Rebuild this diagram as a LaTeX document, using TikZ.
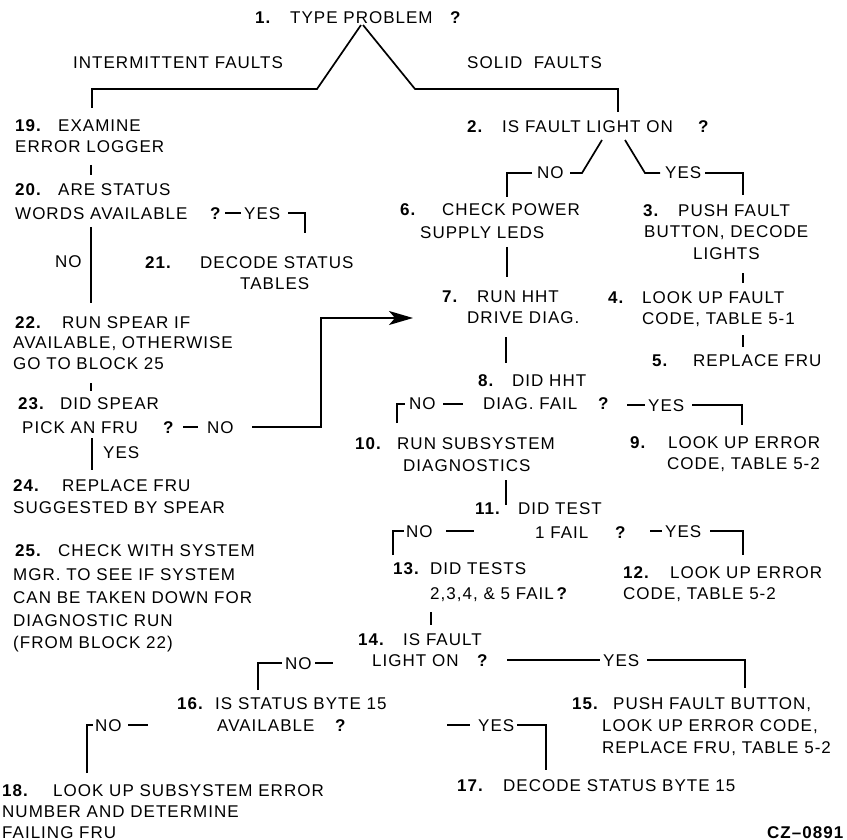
\documentclass[tikz,border=0pt]{standalone}
\usepackage{fontspec}
\setmainfont{Liberation Sans}[LetterSpace=6]
\usetikzlibrary{arrows.meta}
\begin{document}
\begin{tikzpicture}[x=1pt,y=-1pt,
  t/.style={anchor=base west,inner sep=0pt,font=\fontsize{17}{20}\selectfont},
  num/.style={anchor=base west,inner sep=0pt,font=\fontsize{17}{20}\selectfont\bfseries},
  ln/.style={line width=1.7pt},
  arr/.style={line width=1.7pt,-{Stealth[length=24pt,width=14pt,inset=6pt]}}]
\fill[white] (0,0) rectangle (847,840);
\useasboundingbox (0,0) rectangle (847,840);
% ---- title
\node[num] (n1) at (255,24) {1.};
\node[t] (t1) at (290,24) {TYPE PROBLEM};
\node[num] (q1) at (450,24) {?};
\node[t] (lint) at (73,69) {INTERMITTENT FAULTS};
\node[t] (lsol) at (467,69) {SOLID\ \ FAULTS};
% ---- 2
\node[num] (n2) at (467,133) {2.};
\node[t] (t2) at (502,133) {IS FAULT LIGHT ON};
\node[num] (q2) at (698,133) {?};
\node[t] (no2) at (537,179) {NO};
\node[t] (yes2) at (665,179) {YES};
% ---- 6
\node[num] (n6) at (400,216) {6.};
\node[t] (t6a) at (442,216) {CHECK POWER};
\node[t] (t6b) at (420,239) {SUPPLY LEDS};
% ---- 3
\node[num] (n3) at (643,217) {3.};
\node[t] (t3a) at (678,217) {PUSH FAULT};
\node[t] (t3b) at (644,238) {BUTTON, DECODE};
\node[t] (t3c) at (693,259) {LIGHTS};
% ---- 19
\node[num] (n19) at (15,132) {19.};
\node[t] (t19a) at (58,132) {EXAMINE};
\node[t] (t19b) at (15,153) {ERROR LOGGER};
% ---- 20
\node[num] (n20) at (15,196) {20.};
\node[t] (t20a) at (58,196) {ARE STATUS};
\node[t] (t20b) at (15,219) {WORDS AVAILABLE};
\node[num] (q20) at (210,219) {?};
\node[t] (yes20) at (244,219) {YES};
\node[t] (no20) at (55,268) {NO};
% ---- 21
\node[num] (n21) at (145,269) {21.};
\node[t] (t21a) at (200,269) {DECODE STATUS};
\node[t] (t21b) at (240,290) {TABLES};
% ---- 7
\node[num] (n7) at (442,302) {7.};
\node[t] (t7a) at (477,302) {RUN HHT};
\node[t] (t7b) at (467,323) {DRIVE DIAG.};
% ---- 4
\node[num] (n4) at (608,303) {4.};
\node[t] (t4a) at (642,303) {LOOK UP FAULT};
\node[t] (t4b) at (642,324) {CODE, TABLE 5-1};
% ---- 22
\node[num] (n22) at (15,328) {22.};
\node[t] (t22a) at (62,328) {RUN SPEAR IF};
\node[t] (t22b) at (13,348) {AVAILABLE, OTHERWISE};
\node[t] (t22c) at (13,369) {GO TO BLOCK 25};
% ---- 5
\node[num] (n5) at (652,366) {5.};
\node[t] (t5) at (693,366) {REPLACE FRU};
% ---- 8
\node[num] (n8) at (478,386) {8.};
\node[t] (t8a) at (512,386) {DID HHT};
\node[t] (t8b) at (483,409) {DIAG. FAIL};
\node[num] (q8) at (598,409) {?};
\node[t] (no8) at (409,409) {NO};
\node[t] (yes8) at (648,411) {YES};
% ---- 23
\node[num] (n23) at (18,409) {23.};
\node[t] (t23a) at (60,409) {DID SPEAR};
\node[t] (t23b) at (22,433) {PICK AN FRU};
\node[num] (q23) at (163,433) {?};
\node[t] (no23) at (207,433) {NO};
\node[t] (yes23) at (103,458) {YES};
% ---- 10
\node[num] (n10) at (355,449) {10.};
\node[t] (t10a) at (397,449) {RUN SUBSYSTEM};
\node[t] (t10b) at (403,471) {DIAGNOSTICS};
% ---- 9
\node[num] (n9) at (630,448) {9.};
\node[t] (t9a) at (668,448) {LOOK UP ERROR};
\node[t] (t9b) at (667,469) {CODE, TABLE 5-2};
% ---- 24
\node[num] (n24) at (13,491) {24.};
\node[t] (t24a) at (62,491) {REPLACE FRU};
\node[t] (t24b) at (13,513) {SUGGESTED BY SPEAR};
% ---- 11
\node[num] (n11) at (475,514) {11.};
\node[t] (t11a) at (518,514) {DID TEST};
\node[t] (t11b) at (535,538) {1 FAIL};
\node[num] (q11) at (615,538) {?};
\node[t] (no11) at (406,537) {NO};
\node[t] (yes11) at (665,537) {YES};
% ---- 25
\node[num] (n25) at (15,556) {25.};
\node[t] (t25a) at (58,556) {CHECK WITH SYSTEM};
\node[t] (t25b) at (13,580) {MGR. TO SEE IF SYSTEM};
\node[t] (t25c) at (13,603) {CAN BE TAKEN DOWN FOR};
\node[t] (t25d) at (13,626) {DIAGNOSTIC RUN};
\node[t] (t25e) at (13,648) {(FROM BLOCK 22)};
% ---- 12
\node[num] (n12) at (623,578) {12.};
\node[t] (t12a) at (670,578) {LOOK UP ERROR};
\node[t] (t12b) at (623,599) {CODE, TABLE 5-2};
% ---- 13
\node[num] (n13) at (393,574) {13.};
\node[t] (t13a) at (430,574) {DID TESTS};
\node[t] (t13b) at (430,599) {2,3,4, \& 5 FAIL\,\textbf{?}};
% ---- 14
\node[num] (n14) at (358,645) {14.};
\node[t] (t14a) at (403,645) {IS FAULT};
\node[t] (t14b) at (372,666) {LIGHT ON};
\node[num] (q14) at (477,666) {?};
\node[t] (no14) at (285,669) {NO};
\node[t] (yes14) at (603,666) {YES};
% ---- 16
\node[num] (n16) at (177,709) {16.};
\node[t] (t16a) at (215,709) {IS STATUS BYTE 15};
\node[t] (t16b) at (217,731) {AVAILABLE};
\node[num] (q16) at (335,731) {?};
\node[t] (no16) at (95,731) {NO};
\node[t] (yes16) at (478,731) {YES};
% ---- 15
\node[num] (n15) at (572,709) {15.};
\node[t] (t15a) at (613,709) {PUSH FAULT BUTTON,};
\node[t] (t15b) at (602,731) {LOOK UP ERROR CODE,};
\node[t] (t15c) at (602,753) {REPLACE FRU, TABLE 5-2};
% ---- 17
\node[num] (n17) at (457,791) {17.};
\node[t] (t17) at (503,791) {DECODE STATUS BYTE 15};
% ---- 18
\node[num] (n18) at (2,796) {18.};
\node[t] (t18a) at (53,796) {LOOK UP SUBSYSTEM ERROR};
\node[t] (t18b) at (2,817) {NUMBER AND DETERMINE};
\node[t] (t18c) at (2,838) {FAILING FRU};
\node[num] (cz) at (767,838) {CZ--0891};
% ================= connectors
\draw[ln] (361,25)--(317,89)--(92,89)--(92,108);
\draw[ln] (363,25)--(415,89)--(618,89)--(618,112);
\draw[ln] (602,140)--(582,173)--(570,173);
\draw[ln] (532,173)--(507,173)--(507,197);
\draw[ln] (625,140)--(645,173)--(660,173);
\draw[ln] (705,173)--(743,173)--(743,195);
\draw[ln] (507,247)--(507,277);
\draw[ln] (743,273)--(743,283);
\draw[ln] (91,165)--(91,175);
\draw[ln] (225,213)--(241,213);
\draw[ln] (288,213)--(305,213)--(305,233);
\draw[ln] (91,227)--(91,303);
\draw[ln] (506,337)--(506,363);
\draw[ln] (743,335)--(743,347);
\draw[ln] (91,383)--(91,391);
\draw[ln] (183,427)--(198,427);
\draw[arr] (252,427)--(321,427)--(321,318)--(413,318);
\draw[ln] (92,438)--(92,470);
\draw[ln] (397,423)--(397,404)--(405,404);
\draw[ln] (443,404)--(463,404);
\draw[ln] (627,405)--(645,405);
\draw[ln] (692,405)--(742,405)--(742,425);
\draw[ln] (506,480)--(506,505);
\draw[ln] (393,555)--(393,531)--(404,531);
\draw[ln] (446,531)--(474,531);
\draw[ln] (650,531)--(662,531);
\draw[ln] (710,531)--(743,531)--(743,555);
\draw[ln] (431,612)--(431,625);
\draw[ln] (258,690)--(258,663)--(282,663);
\draw[ln] (315,663)--(333,663);
\draw[ln] (507,660)--(600,660);
\draw[ln] (647,660)--(745,660)--(745,688);
\draw[ln] (87,773)--(87,725)--(93,725);
\draw[ln] (128,725)--(148,725);
\draw[ln] (447,725)--(470,725);
\draw[ln] (517,725)--(546,725)--(546,770);
\end{tikzpicture}
\end{document}
